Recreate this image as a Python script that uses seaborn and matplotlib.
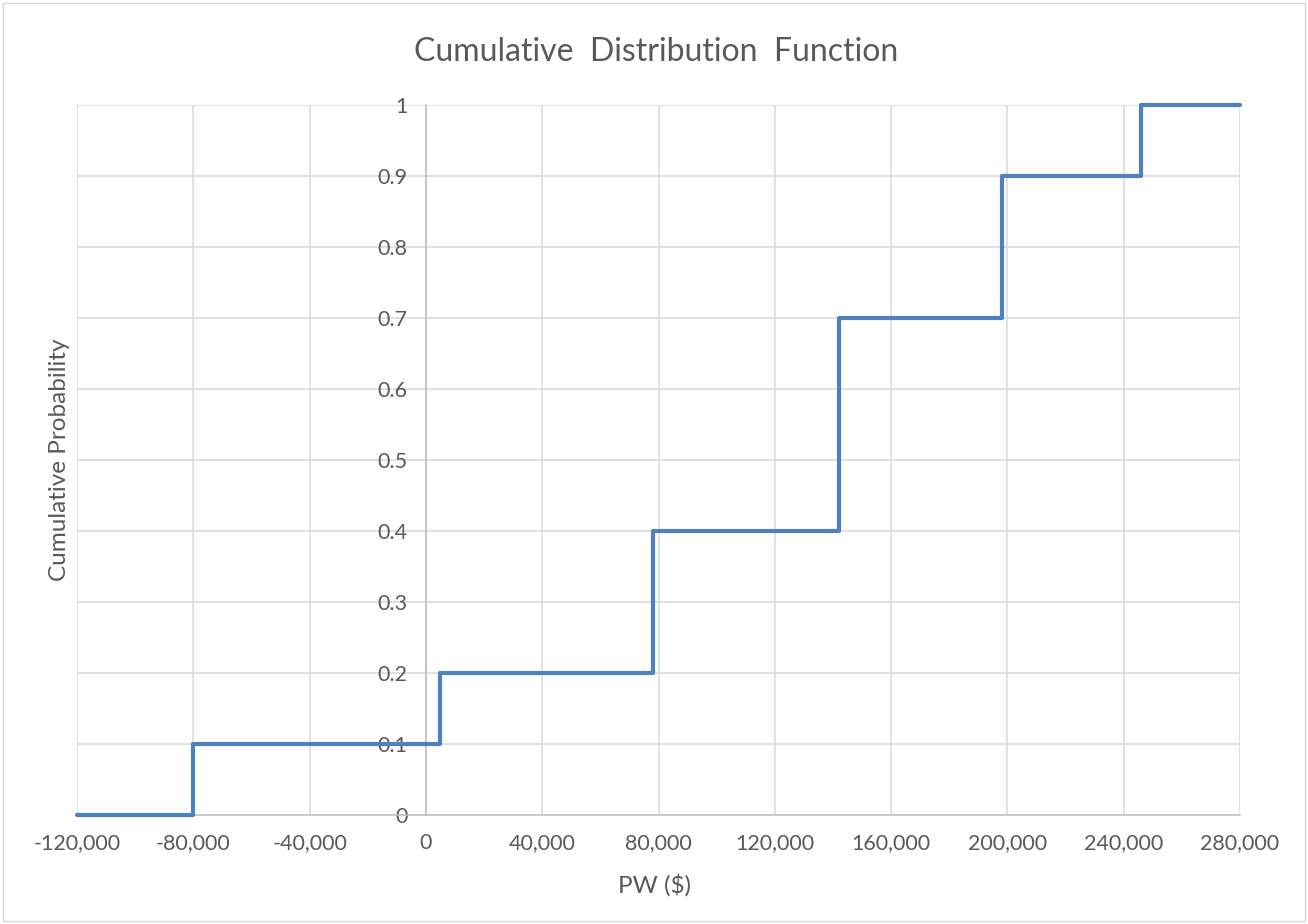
import matplotlib
matplotlib.use("Agg")
import matplotlib.pyplot as plt
import matplotlib.ticker as mticker
from matplotlib.patches import Rectangle
import seaborn as sns
import pandas as pd

# Present worth outcomes and their cumulative probabilities (step CDF)
pw_values = [-120000, -80000, 5000, 78000, 142000, 198000, 246000, 280000]
cum_prob = [0.0, 0.1, 0.2, 0.4, 0.7, 0.9, 1.0, 1.0]
x_ticks = list(range(-120000, 280001, 40000))
y_ticks = [0, 0.1, 0.2, 0.3, 0.4, 0.5, 0.6, 0.7, 0.8, 0.9, 1]
y_tick_labels = ["0", "0.1", "0.2", "0.3", "0.4", "0.5", "0.6", "0.7", "0.8", "0.9", "1"]

sns.set_theme(style="white")
plt.rcParams["font.family"] = ["Lato", "DejaVu Sans"]

text_color = "#595959"
grid_color = "#d9d9d9"

fig = plt.figure(figsize=(13.08, 9.24), dpi=100)
ax = fig.add_axes([77 / 1308, 1 - 815 / 924, (1240 - 77) / 1308, (815 - 105) / 924])

df = pd.DataFrame({"PW": pw_values, "P": cum_prob})
sns.lineplot(data=df, x="PW", y="P", ax=ax, drawstyle="steps-post",
             color="#4f81bd", linewidth=3.0, clip_on=False, zorder=5)

ax.set_xlim(-120000, 280000)
ax.set_ylim(0, 1)
ax.set_xticks(x_ticks)
ax.xaxis.set_major_formatter(mticker.FuncFormatter(lambda v, p: f"{int(v):,}"))
ax.set_yticks(y_ticks)
ax.set_yticklabels(y_tick_labels)

ax.grid(True, color=grid_color, linewidth=1.1)
ax.set_axisbelow(True)

# Value axis crosses at PW = 0
ax.spines["left"].set_position(("data", 0))
ax.spines["left"].set_color("#bfbfbf")
ax.spines["left"].set_linewidth(1.1)
ax.spines["bottom"].set_color("#bfbfbf")
ax.spines["bottom"].set_linewidth(1.1)
ax.spines["right"].set_visible(False)
ax.spines["top"].set_visible(False)

ax.tick_params(axis="both", length=0, labelsize=15.5, colors=text_color)
ax.tick_params(axis="x", pad=13)
ax.tick_params(axis="y", pad=13)

ax.set_xlabel("")
ax.set_ylabel("")
fig.text(0.5, 1 - 885 / 924, "PW ($)", ha="center", va="center",
         fontsize=17.5, color=text_color)
fig.text(60 / 1308, 1 - 460 / 924, "Cumulative Probability", rotation=90,
         ha="center", va="center", fontsize=17.5, color=text_color)
fig.text(656 / 1308, 1 - 52 / 924, "Cumulative  Distribution  Function",
         ha="center", va="center", fontsize=23, color=text_color)

# Chart area border
fig.patches.append(Rectangle((3 / 1308, 3 / 924), 1 - 6 / 1308, 1 - 6 / 924,
                             transform=fig.transFigure, fill=False,
                             edgecolor="#d9d9d9", linewidth=1.0))

fig.savefig("out.png", dpi=100, facecolor="white")
